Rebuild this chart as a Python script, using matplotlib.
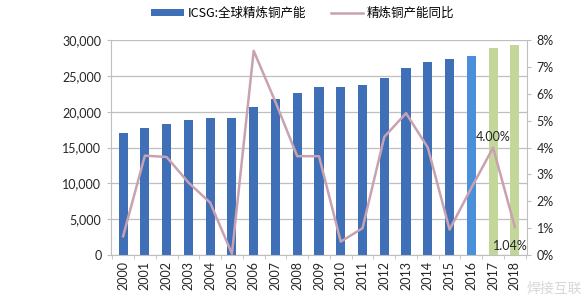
import matplotlib
matplotlib.use("Agg")
import matplotlib.pyplot as plt
from matplotlib.patches import Patch
from matplotlib.lines import Line2D
from matplotlib.ticker import FuncFormatter, MultipleLocator, FixedLocator

plt.rcParams['font.family'] = ['Lato', 'Noto Sans CJK SC', 'DejaVu Sans']

years = [str(y) for y in range(2000, 2019)]
capacity = [17000, 17700, 18300, 18800, 19100, 19100, 20650, 21750, 22600, 23400,
            23500, 23800, 24750, 26150, 26950, 27300, 27850, 28950, 29300]
yoy = [0.7, 3.7, 3.65, 2.7, 1.95, 0.05, 7.6, 5.7, 3.68, 3.68,
       0.5, 1.0, 4.4, 5.28, 4.0, 0.95, 2.5, 4.00, 1.04]
bar_colors = ['#3F6FB6'] * 16 + ['#4A8FDA'] + ['#C4D79B'] * 2
legend_bar = 'ICSG:全球精炼铜产能'
legend_line = '精炼铜产能同比'
labels_pts = {17: '4.00%', 18: '1.04%'}

fig = plt.figure(figsize=(5.88, 3.04), dpi=100)
ax = fig.add_axes([0.189, 0.161, 0.707, 0.707])
x = list(range(len(years)))
ax.bar(x, capacity, width=0.42, color=bar_colors, zorder=2)
ax.set_ylim(0, 30000)
ax.set_xlim(-0.55, len(years) - 0.45)
ax.yaxis.set_major_locator(MultipleLocator(5000))
ax.yaxis.set_major_formatter(FuncFormatter(lambda v, p: f'{int(v):,}'))
ax.grid(axis='y', color='#BFBFBF', linewidth=0.9, zorder=0)
ax.set_xticks(x)
ax.set_xticklabels(years, rotation=90, fontsize=9, color='#262626')
ax.xaxis.set_minor_locator(FixedLocator([i - 0.5 for i in range(len(years) + 1)]))
ax.tick_params(axis='x', which='minor', length=3, color='#BFBFBF')
ax.tick_params(axis='y', labelsize=9, length=3, pad=4, colors='#262626', color='#BFBFBF')
ax.tick_params(axis='x', which='major', length=0, pad=4)
for s in ['top', 'right']:
    ax.spines[s].set_visible(False)
ax.spines['left'].set_color('#BFBFBF')
ax.spines['bottom'].set_color('#BFBFBF')

ax2 = ax.twinx()
ax2.plot(x, yoy, color='#C9A2B2', linewidth=1.8, zorder=3)
ax2.set_ylim(0, 8)
ax2.yaxis.set_major_locator(MultipleLocator(1))
ax2.yaxis.set_major_formatter(FuncFormatter(lambda v, p: f'{int(v)}%'))
ax2.tick_params(axis='y', labelsize=9, length=3, labelcolor='#262626', color='#BFBFBF', pad=4)
for s in ['top', 'left', 'bottom']:
    ax2.spines[s].set_visible(False)
ax2.spines['right'].set_color('#BFBFBF')
for i, t in labels_pts.items():
    if i == 17:
        ax2.annotate(t, (x[i], yoy[i]), xytext=(0, 3), textcoords='offset points',
                     ha='center', va='bottom', fontsize=9, color='#262626')
    else:
        ax2.annotate(t, (x[i], yoy[i]), xytext=(-3, -9), textcoords='offset points',
                     ha='center', va='top', fontsize=9, color='#262626')

handles = [Patch(facecolor='#3F6FB6'), Line2D([0], [0], color='#C9A2B2', linewidth=1.8)]
fig.legend(handles, [legend_bar, legend_line], loc='center', bbox_to_anchor=(0.515, 0.955),
           ncol=2, frameon=False, handlelength=2.6, handleheight=0.45,
           columnspacing=2.0, handletextpad=0.3,
           prop={'family': ['Noto Sans CJK SC', 'DejaVu Sans'], 'size': 9})

fig.text(0.99, 0.05, '焊接互联', ha='right', va='center', fontsize=10, color='#D8D8D8',
         family=['Noto Sans CJK SC'])

fig.savefig('out.png', dpi=100)
